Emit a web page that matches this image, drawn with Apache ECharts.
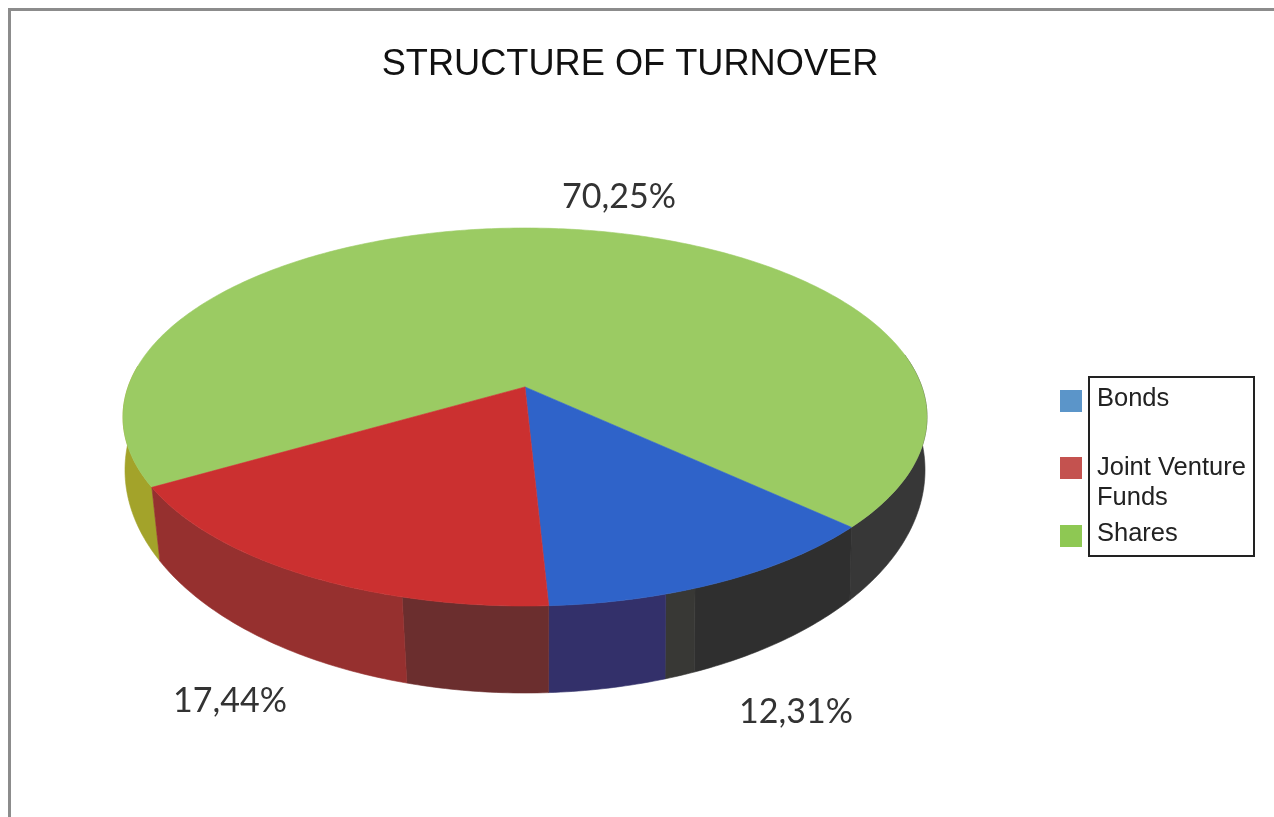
<!DOCTYPE html>
<html><head><meta charset="utf-8">
<style>html,body{margin:0;padding:0;background:#fff}#c{width:1274px;height:817px}</style>
<script src="https://cdn.jsdelivr.net/npm/echarts@6/dist/echarts.min.js"></script>
</head><body><div id="c"></div>
<script>
const categories = ['Bonds', 'Joint Venture Funds', 'Shares'];
const shareValues = [12.31, 17.44, 70.25];
const topColors = ['#2f63c9', '#cb3030', '#9bcb63'];
const legendColors = ['#5b95c9', '#c4524f', '#8ec853'];
const legendText = ['{lift|Bonds}', '\nJoint Venture\nFunds', '{lift|Shares}'];
const legendTops = [385.5, 423, 520.5];
const labelSpots = [[796, 712], [230, 701], [619, 197]];
// wall shades: [share of the slice's sweep where the band ends, colour]
const wallBands = [
  [[0.582, '#2f2f2f'], [0.67, '#383835'], [1, '#33306a']],
  [[0.288, '#6b2e2e'], [1, '#96302f']],
  [[0.145, '#a3a32a'], [0.79, '#ffffff00'], [1, '#373737']]
];
const START_DEG = 47.2, K = 0.159;
const TOP = {cx: 525, cy: 417, rx: 402, ry: 189, lean: 1};
const BASE = {cx: 525, cy: 470, rx: 400, ry: 223, lean: 0.965};

function project(deg, e) {
  const d = (deg < 0 && deg > -180) ? deg * e.lean : deg;
  const t = d * Math.PI / 180, u = Math.sin(t), v = Math.cos(t), w = 1 - K * v;
  const a = e.rx * Math.sqrt(1 - K * K);
  return [e.cx + a * u / w, e.cy + (e.ry * v - e.ry * K) / w];
}
function arc(d0, d1, e) {
  const n = Math.max(2, Math.ceil(Math.abs(d1 - d0) / 0.75)), out = [];
  for (let i = 0; i <= n; i++) out.push(project(d0 + (d1 - d0) * i / n, e));
  return out;
}
const apex = [TOP.cx, TOP.cy - TOP.ry * K];

function makeItem(idx) {
  return function (params, api) {
    const value = api.value(0);
    let before = 0;
    for (let i = 0; i < idx; i++) before += shareValues[i];
    const d0 = START_DEG - before * 3.6, sweep = value * 3.6, d1 = d0 - sweep;
    const children = [];
    let from = 0;
    wallBands[idx].forEach(function (b) {
      const a0 = d0 - sweep * from, a1 = d0 - sweep * b[0];
      from = b[0];
      if (b[1] === '#ffffff00') return;
      const pts = arc(a0, a1, TOP).concat(arc(a1, a0, BASE));
      children.push({type: 'polygon', z2: 1, shape: {points: pts},
        style: {fill: b[1], stroke: b[1], lineWidth: 0.6}});
    });
    children.push({type: 'polygon', z2: 5, shape: {points: [apex].concat(arc(d0, d1, TOP))},
      style: {fill: topColors[idx], stroke: topColors[idx], lineWidth: 0.6}});
    const spot = labelSpots[idx];
    children.push({type: 'text', z2: 10, x: spot[0], y: spot[1],
      style: {text: value.toFixed(2).replace('.', ',') + '%', fill: '#333',
        font: '34px Lato', align: 'center', verticalAlign: 'middle'}});
    return {type: 'group', children: children};
  };
}

const chart = echarts.init(document.getElementById('c'), null, {renderer: 'canvas'});
chart.setOption({
  animation: false,
  backgroundColor: '#fff',
  title: {text: 'STRUCTURE OF TURNOVER', left: 625, top: 42, textAlign: 'center',
    textStyle: {fontFamily: 'Liberation Sans', fontWeight: 'normal', fontSize: 36.2, color: '#111'}},
  legend: categories.map(function (name, i) {
    return {
      data: [{name: name, itemStyle: {color: legendColors[i]}}],
      left: 1060, top: legendTops[i],
      itemWidth: 22, itemHeight: 22, padding: 0, selectedMode: false, icon: 'rect',
      formatter: function () { return legendText[i]; },
      textStyle: {fontFamily: 'Liberation Sans', fontSize: 25.5, color: '#222', lineHeight: 30,
        padding: [0, 0, 0, 10],
        rich: {lift: {fontFamily: 'Liberation Sans', fontSize: 25.5, color: '#222', lineHeight: 30,
          padding: [0, 0, 5, 0]}}}
    };
  }),
  graphic: [
    {type: 'rect', z: 0, shape: {x: 9.5, y: 9.5, width: 1400, height: 900},
      style: {fill: 'none', stroke: '#8c8c8c', lineWidth: 3}},
    {type: 'rect', shape: {x: 1089, y: 377, width: 165, height: 179},
      style: {fill: 'none', stroke: '#222', lineWidth: 2}}
  ],
  series: [2, 0, 1].map(function (i) {
    return {type: 'custom', name: categories[i], coordinateSystem: 'none',
      color: legendColors[i], silent: true, clip: false,
      data: [[shareValues[i]]], renderItem: makeItem(i)};
  })
});
</script></body></html>
